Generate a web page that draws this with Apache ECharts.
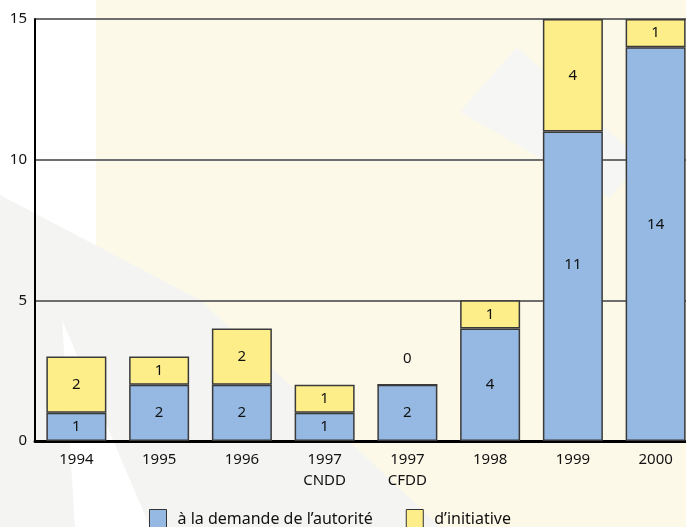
<!DOCTYPE html>
<html>
<head>
<meta charset="utf-8">
<script src="https://cdn.jsdelivr.net/npm/echarts@6/dist/echarts.min.js"></script>
<style>
  html, body { margin: 0; padding: 0; background: #fff; }
  #main { width: 686px; height: 527px; }
</style>
</head>
<body>
<div id="main"></div>
<script>
  // données
  var categories = ['1994', '1995', '1996', '1997\nCNDD', '1997\nCFDD', '1998', '1999', '2000']
  var demandeAutorite = [1, 2, 2, 1, 2, 4, 11, 14]
  var initiative = [2, 1, 2, 1, 0, 1, 4, 1]
  var seriesNames = ['à la demande de l’autorité', 'd’initiative']
  var yTicks = [0, 5, 10, 15]

  var FONT = 'Noto Sans'
  var chart = echarts.init(document.getElementById('main'))

  // decalage vertical des etiquettes dans les grandes barres
  var labelNudge = {6: -22, 7: -19}

  var blueData = demandeAutorite.map(function (v, i) {
    if (labelNudge[i]) {
      return {value: v, label: {offset: [0, labelNudge[i]]}}
    }
    return v
  })
  var yellowData = initiative.map(function (v) {
    if (v === 0) {
      return {value: v, label: {position: 'top', distance: 18}}
    }
    return v
  })

  var labelStyle = {
    show: true,
    position: 'inside',
    color: '#111',
    fontFamily: FONT,
    fontSize: 15
  }

  var option = {
    animation: false,
    graphic: [
      // fond creme
      {type: 'rect', z: -10, silent: true, shape: {x: 96, y: 0, width: 600, height: 527}, style: {fill: '#fdf9e8'}},
      // filigrane gris
      {type: 'polygon', z: -9, silent: true, shape: {points: [[0, 195], [200, 300], [440, 527], [0, 527]]}, style: {fill: '#f4f4f3'}},
      {type: 'polygon', z: -8, silent: true, shape: {points: [[62, 320], [150, 527], [75, 527]]}, style: {fill: '#ffffff'}},
      {type: 'polygon', z: -9, silent: true, shape: {points: [[517, 47], [460, 112], [610, 198], [640, 160]]}, style: {fill: '#f6f6f5'}}
    ],
    grid: {
      left: 35,
      top: 19,
      width: 662,
      height: 422,
      outerBoundsMode: 'none'
    },
    legend: {
      data: seriesNames,
      left: 144,
      top: 504,
      icon: 'rect',
      itemWidth: 17,
      itemHeight: 20,
      itemGap: 33,
      itemStyle: {borderColor: '#333', borderWidth: 1},
      textStyle: {fontFamily: FONT, fontSize: 16, color: '#111', padding: [0, 0, 0, 6]}
    },
    xAxis: {
      type: 'category',
      data: categories,
      axisLine: {lineStyle: {color: '#000', width: 3}},
      axisTick: {show: false},
      axisLabel: {
        color: '#111',
        fontFamily: FONT,
        fontSize: 15,
        lineHeight: 21,
        margin: 8,
        interval: 0
      }
    },
    yAxis: {
      type: 'value',
      min: yTicks[0],
      max: yTicks[yTicks.length - 1],
      interval: 5,
      axisLine: {show: true, lineStyle: {color: '#000', width: 2}},
      axisTick: {show: false},
      axisLabel: {color: '#111', fontFamily: FONT, fontSize: 15, margin: 8},
      splitLine: {lineStyle: {color: '#6e6e6e', width: 2}}
    },
    series: [{
      name: seriesNames[0],
      type: 'bar',
      stack: 'total',
      barWidth: 60,
      data: blueData,
      itemStyle: {color: '#95b9e2', borderColor: '#3a3a3a', borderWidth: 1.5},
      label: labelStyle
    }, {
      name: seriesNames[1],
      type: 'bar',
      stack: 'total',
      barWidth: 60,
      data: yellowData,
      itemStyle: {color: '#fdee8a', borderColor: '#3a3a3a', borderWidth: 1.5},
      label: labelStyle
    }]
  }
  chart.setOption(option)
</script>
</body>
</html>
